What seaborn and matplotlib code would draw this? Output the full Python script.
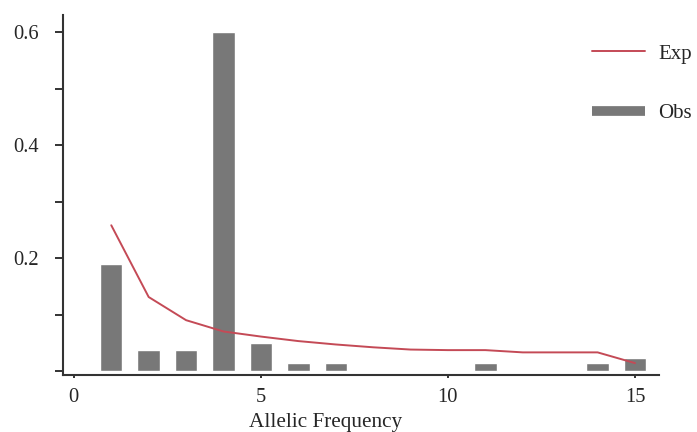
import matplotlib
matplotlib.use("Agg")
import matplotlib.pyplot as plt
import seaborn as sns
import pandas as pd
from matplotlib.lines import Line2D

# Data
obs_x = [1, 2, 3, 4, 5, 6, 7, 11, 14, 15]
obs_y = [0.19, 0.037, 0.037, 0.60, 0.05, 0.014, 0.014, 0.014, 0.014, 0.023]
exp_x = list(range(1, 16))
exp_y = [0.258, 0.131, 0.090, 0.070, 0.061, 0.053, 0.047, 0.042, 0.038,
         0.037, 0.037, 0.033, 0.033, 0.033, 0.014]
x_ticks = [0, 5, 10, 15]
y_ticks = [0.0, 0.1, 0.2, 0.3, 0.4, 0.5, 0.6]
y_labels = ["", "", "0.2", "", "0.4", "", "0.6"]

sns.set_style("white")
plt.rcParams['font.family'] = ['Liberation Serif', 'DejaVu Serif']

bar_color = "#787878"
line_color = "#c44a56"

fig = plt.figure(figsize=(6.97, 4.32), dpi=100)
ax = fig.add_axes([0.0904, 0.132, 0.855, 0.833])

obs_df = pd.DataFrame({"x": obs_x, "y": obs_y})
exp_df = pd.DataFrame({"x": exp_x, "y": exp_y})

sns.barplot(data=obs_df, x="x", y="y", native_scale=True, width=0.6,
            color=bar_color, saturation=1, ax=ax, zorder=2)
sns.lineplot(data=exp_df, x="x", y="y", color=line_color, linewidth=1.4,
             ax=ax, zorder=3)

ax.set_xlim(-0.29, 15.64)
ax.set_ylim(-0.007, 0.63)
ax.set_xticks(x_ticks)
ax.set_xticklabels([str(t) for t in x_ticks])
ax.set_yticks(y_ticks)
ax.set_yticklabels(y_labels)

for s in ["top", "right"]:
    ax.spines[s].set_visible(False)
for s in ["left", "bottom"]:
    ax.spines[s].set_color("#333333")
    ax.spines[s].set_linewidth(1.5)

ax.tick_params(axis="y", direction="out", length=5.8, width=1.4, color="#333333",
               labelsize=14.8, pad=11.5, left=True)
ax.tick_params(axis="x", direction="out", length=2.2, width=1.4, color="#333333",
               labelsize=14.8, pad=7, bottom=True)
ax.set_xlabel("Allelic Frequency", fontsize=15.3, labelpad=3)
ax.xaxis.set_label_coords(0.440, -0.105)
ax.xaxis.label.set_verticalalignment("top")
ax.set_ylabel("")

handles = [Line2D([0], [0], color=line_color, linewidth=1.4),
           Line2D([0], [0], color=bar_color, linewidth=7, solid_capstyle="butt")]
leg = ax.legend(handles, ["Exp", "Obs"], loc="upper left",
                bbox_to_anchor=(0.849, 0.898), bbox_transform=fig.transFigure,
                frameon=False, fontsize=15, handlelength=2.55, handletextpad=0.65,
                labelspacing=1.9, borderpad=0, borderaxespad=0)

fig.savefig("out.png", dpi=100)
